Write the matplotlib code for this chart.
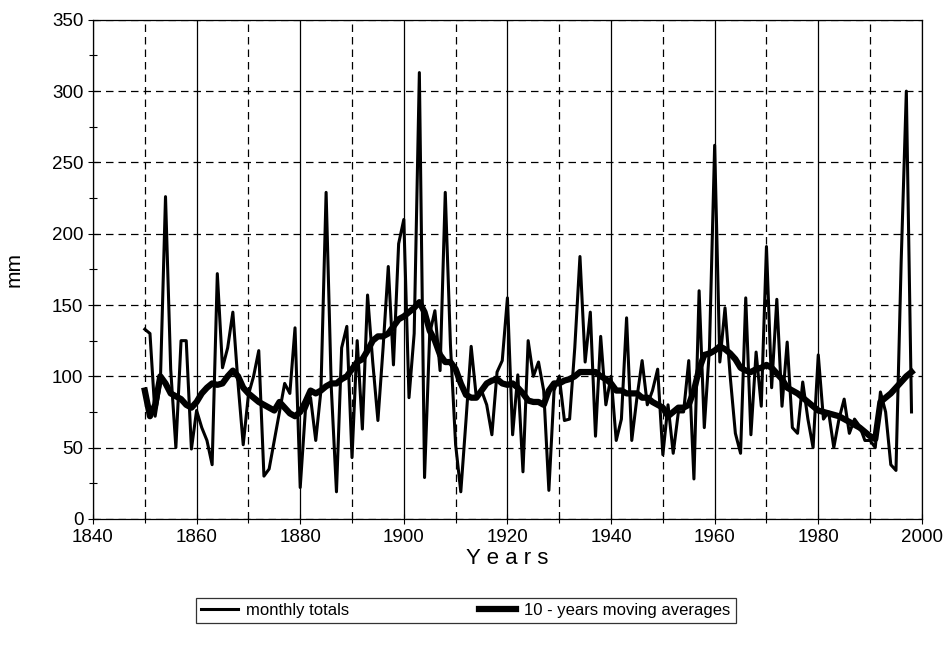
import numpy as np
import matplotlib
matplotlib.use('Agg')
import matplotlib.pyplot as plt
from matplotlib.ticker import MultipleLocator

plt.rcParams['font.family'] = ['Liberation Sans', 'DejaVu Sans']

# yearly values, 1850-1998
years = list(range(1850, 1999))

monthly_totals = [
    133, 130, 72, 95, 226, 105, 50, 125, 125, 49,      # 1850s
    76, 64, 55, 38, 172, 106, 120, 145, 95, 52,        # 1860s
    87, 100, 118, 30, 35, 55, 75, 95, 88, 134,         # 1870s
    22, 76, 85, 55, 90, 229, 92, 19, 120, 135,         # 1880s
    43, 125, 63, 157, 110, 69, 120, 177, 108, 193,     # 1890s
    210, 85, 130, 313, 29, 130, 146, 104, 229, 122,    # 1900s
    52, 19, 69, 121, 85, 90, 80, 59, 103, 111,         # 1910s
    155, 59, 101, 33, 125, 100, 110, 90, 20, 90,       # 1920s
    100, 69, 70, 120, 184, 110, 145, 58, 128, 80,      # 1930s
    100, 55, 70, 141, 55, 85, 111, 80, 90, 105,        # 1940s
    45, 80, 46, 75, 75, 111, 28, 160, 64, 120,         # 1950s
    262, 110, 148, 100, 60, 46, 155, 59, 117, 79,      # 1960s
    191, 92, 154, 79, 124, 64, 60, 96, 70, 50,         # 1970s
    115, 70, 75, 50, 70, 84, 60, 70, 65, 55,           # 1980s
    55, 50, 89, 75, 38, 34, 180, 300, 75,              # 1990-1998
]

moving_avg = [
    90, 72, 80, 100, 95, 88, 86, 84, 80, 78,
    82, 88, 92, 95, 94, 95, 100, 104, 100, 92,
    88, 85, 82, 80, 78, 76, 82, 78, 74, 72,
    75, 82, 90, 88, 90, 93, 95, 95, 98, 100,
    105, 110, 112, 118, 125, 128, 128, 130, 135, 140,
    142, 145, 148, 152, 145, 132, 125, 115, 110, 110,
    105, 95, 87, 85, 85, 90, 95, 97, 98, 95,
    94, 95, 92, 88, 83, 82, 82, 80, 90, 95,
    95, 97, 98, 100, 103, 103, 103, 103, 100, 98,
    95, 90, 90, 88, 88, 88, 85, 85, 82, 80,
    78, 72, 75, 78, 78, 80, 90, 105, 115, 116,
    118, 121, 119, 116, 112, 106, 104, 103, 105, 106,
    108, 106, 102, 98, 92, 90, 88, 85, 82, 79,
    76, 75, 74, 73, 72, 70, 68, 66, 64, 61,
    58, 56, 82, 85, 88, 92, 96, 100, 103,
]

fig = plt.figure(figsize=(9.43, 6.61), dpi=100)
ax = fig.add_axes([0.0986, 0.215, 0.879, 0.755])

ax.plot(years, monthly_totals, color='black', lw=2.2, label='monthly totals', zorder=3)
ax.plot(years, moving_avg, color='black', lw=4.5, label='10 - years moving averages', zorder=4)

ax.set_xlim(1840, 2000)
ax.set_ylim(0, 350)
ax.xaxis.set_major_locator(MultipleLocator(20))
ax.xaxis.set_minor_locator(MultipleLocator(10))
ax.yaxis.set_major_locator(MultipleLocator(50))
ax.yaxis.set_minor_locator(MultipleLocator(25))

ax.tick_params(which='both', direction='inout', length=7, width=0.8, labelsize=13.5)
ax.tick_params(which='minor', length=6)

# grid: dashed horizontals, solid 20-year and dashed 10-year verticals
ax.grid(axis='y', which='major', color='black', lw=0.9, ls=(0, (6, 4)))
ax.grid(axis='x', which='major', color='black', lw=0.9, ls='-')
ax.grid(axis='x', which='minor', color='black', lw=0.9, ls=(0, (6, 4)))
ax.set_axisbelow(True)

for sp in ax.spines.values():
    sp.set_linewidth(0.9)

ax.set_xlabel('Y e a r s', fontsize=16, labelpad=2)
ax.set_ylabel('mm', fontsize=15, labelpad=20)

leg = fig.legend(loc='center', bbox_to_anchor=(0.494, 0.077), ncol=2,
                 frameon=True, fancybox=False, edgecolor='black',
                 fontsize=12, handlelength=2.2, columnspacing=7.8,
                 borderpad=0.3, handletextpad=0.5)
leg.get_frame().set_linewidth(0.9)

plt.savefig('out.png', dpi=100)
